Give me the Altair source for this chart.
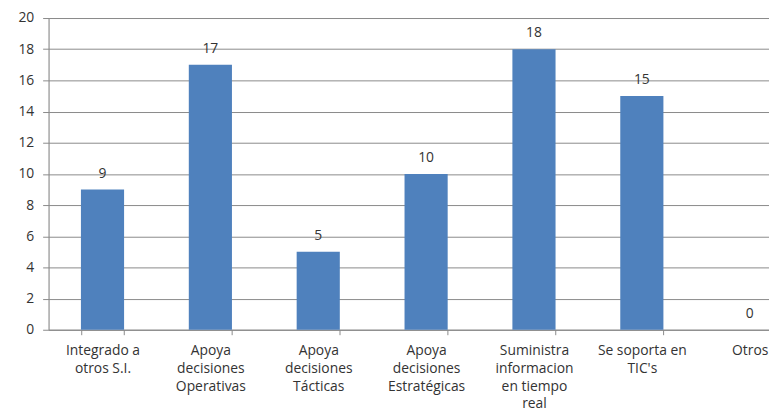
import altair as alt
import pandas as pd

categories = [
    "Integrado a|otros S.I.",
    "Apoya|decisiones|Operativas",
    "Apoya|decisiones|Tácticas",
    "Apoya|decisiones|Estratégicas",
    "Suministra|informacion|en tiempo|real",
    "Se soporta en|TIC's",
    "Otros",
]
values = [9, 17, 5, 10, 18, 15, 0]
y_ticks = [0, 2, 4, 6, 8, 10, 12, 14, 16, 18, 20]

df = pd.DataFrame({"cat": categories, "val": values})

FONT = "Open Sans"
TXT = "#333333"
GRID = "#8a8a8a"

x_enc = alt.X(
    "cat:N",
    sort=None,
    scale=alt.Scale(range=[0, 763], paddingInner=0.6, paddingOuter=0.3),
    axis=alt.Axis(
        title=None,
        labelAngle=0,
        labelExpr="split(datum.label, '|')",
        labelFont=FONT,
        labelFontSize=14,
        labelColor=TXT,
        labelLineHeight=18,
        labelBaseline="top",
        labelPadding=9,
        tickBand="extent",
        tickSize=5,
        tickColor=GRID,
        domainColor=GRID,
        grid=False,
        labelLimit=200,
        labelOverlap=False,
    ),
)

y_enc = alt.Y(
    "val:Q",
    scale=alt.Scale(domain=[0, 20], nice=False),
    axis=alt.Axis(
        title=None,
        values=y_ticks,
        labelOverlap=False,
        labelFont=FONT,
        labelFontSize=14,
        labelColor=TXT,
        labelPadding=9,
        tickSize=6,
        tickColor=GRID,
        domainColor=GRID,
        gridColor=GRID,
        gridWidth=1,
    ),
)

bars = alt.Chart(df).mark_bar(color="#4F81BD").encode(x=x_enc, y=y_enc)
labels = alt.Chart(df).mark_text(
    dy=-16, font=FONT, fontSize=14, color=TXT, baseline="middle"
).encode(x=x_enc, y=y_enc, text="val:Q")

chart = (
    alt.layer(bars, labels)
    .properties(
        width=728,
        height=315,
        autosize=alt.AutoSizeParams(type="none"),
        padding={"left": 41, "top": 8, "right": 0, "bottom": 82},
    )
    .configure_view(stroke=None)
    .configure(background="white")
)

chart.save("out.html", embed_options={"renderer": "svg", "actions": False})
